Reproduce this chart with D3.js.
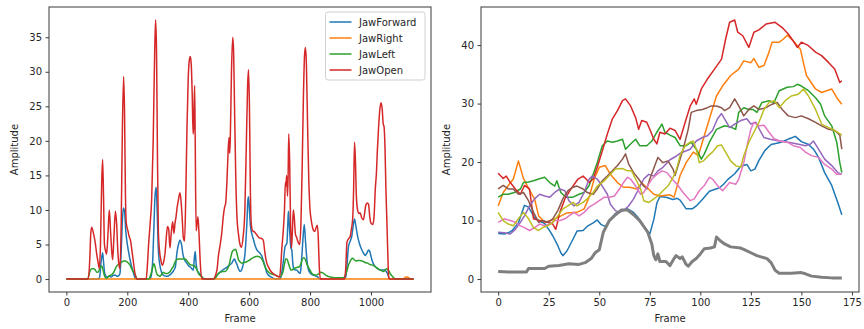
<!DOCTYPE html>
<html>
<head>
<meta charset="utf-8">
<script src="https://cdn.jsdelivr.net/npm/d3@7"></script>
<style>
  body { margin: 0; background: #fff; }
  svg text { font-family: "DejaVu Sans", sans-serif; fill: #262626; }
  .axis path, .axis line { stroke: #3a3a3a; }
</style>
</head>
<body>
<div id="chart"></div>
<script>
// ---- left panel: jaw blendshapes over ~1140 frames, [frame, amplitude]
const jawNames = ['JawForward', 'JawRight', 'JawLeft', 'JawOpen'];
const jawForward = [[0,0],[106,0],[110,0.5],[114,2.5],[119,3.8],[122,2.5],[126,0.8],[133,0.3],[140,0.4],[147,0.3],[153,0.5],[160,0.6],[166,0.4],[172,0.5],[176,0.8],[180,4],[184,8.5],[187,10.3],[191,9.8],[195,7],[198,5.7],[204,4],[209,2.8],[215,1.7],[220,0.9],[228,0],[276,0],[280,0.9],[283,2.3],[287,7],[291,12],[295,13.3],[298,10],[302,4.2],[307,2],[313,0.9],[320,0.5],[330,0.4],[340,0.6],[347,0.9],[353,1.3],[358,1.8],[363,3.8],[368,5],[373,5.6],[378,5],[383,3.5],[388,2.8],[395,2.3],[400,2],[408,1.7],[417,1.3],[420,3],[423,4],[426,2.2],[430,1.2],[437,0.8],[445,0.3],[452,0],[480,0],[490,0.3],[500,0.8],[510,1.2],[520,1.5],[527,1.7],[535,2],[543,2.3],[548,2.7],[552,2.9],[556,2.5],[560,2.1],[565,1.5],[570,1.1],[575,1.3],[581,2.2],[586,3.5],[589,5.2],[593,8.5],[596,11.5],[598,11.9],[601,10],[604,7.8],[609,6.5],[613,5.9],[620,4.8],[626,4.2],[634,3.8],[642,3.3],[647,2.6],[652,1.9],[658,0.9],[665,0.5],[672,0.3],[685,0],[702,0],[707,0.9],[712,2.5],[718,4.7],[724,5.2],[727,8],[729,9.8],[731,8.5],[734,6.2],[737,4.5],[740,4.2],[743,2.5],[746,1.5],[751,1.3],[756,1.3],[762,1],[767,0.8],[770,1.5],[773,3.3],[777,6],[781,7.9],[785,5.5],[790,2.6],[795,1.3],[800,0.9],[808,0.6],[816,0.5],[825,0.3],[833,0],[913,0],[918,0.5],[921,1.8],[926,4.7],[932,5.5],[937,6.2],[941,7.5],[946,8.7],[950,7.8],[956,6.2],[963,5],[970,4.2],[976,3.7],[981,3.4],[987,3.8],[992,4.2],[996,4],[1000,3.3],[1003,2.8],[1008,2.2],[1014,1.8],[1022,1.5],[1030,1.3],[1040,1.3],[1046,1.3],[1050,1.1],[1054,0.8],[1058,0.3],[1061,0],[1140,0]];
const jawRight = [[0,0],[1105,0],[1110,0.15],[1115,0.3],[1120,0.3],[1125,0.15],[1130,0],[1140,0]];
const jawLeft = [[0,0],[70,0],[74,0.6],[79,1.3],[84,1.5],[90,1.5],[95,1.3],[100,1],[104,1],[108,1.3],[112,1.7],[116,1.9],[119,1.6],[123,0.8],[127,0.3],[131,0.1],[137,0.3],[142,0.5],[148,0.6],[153,0.8],[158,1.2],[164,1.8],[170,2.1],[175,2.3],[181,2.4],[187,2.6],[193,2.6],[199,2.5],[204,2.3],[209,2],[213,1.6],[218,1.2],[224,0.8],[228,0.4],[232,0],[270,0],[276,0.5],[281,1.2],[285,2],[288,2.2],[291,1.8],[295,1],[299,0.6],[303,0.5],[307,0.4],[313,0.7],[318,1],[324,0.8],[330,0.8],[336,0.9],[341,1.1],[346,1.5],[351,1.8],[356,2.4],[362,2.8],[368,2.9],[375,2.9],[382,2.9],[389,2.9],[395,2.7],[400,2.4],[406,2.1],[414,2],[423,1.8],[429,1.3],[434,0.8],[440,0.5],[445,0.3],[450,0.1],[460,0],[483,0],[490,0.2],[499,0.8],[506,1],[514,1.1],[521,1.1],[528,1.4],[534,2],[540,3.2],[545,4],[550,4.2],[556,4.3],[560,3.7],[565,2.8],[570,2.5],[576,2.3],[584,2.4],[592,2.5],[600,2.7],[609,3],[618,3.2],[626,3.3],[634,3.2],[640,3],[646,2.5],[652,1.8],[658,1.3],[664,1],[669,0.8],[677,0.7],[685,0.6],[694,0.4],[702,0.3],[707,0.6],[712,1.2],[716,2.2],[720,2.9],[724,2.9],[729,2.3],[734,1.6],[738,1.3],[744,1.4],[751,1.6],[759,1.7],[765,1.8],[770,2.2],[775,2.9],[780,3.1],[785,2.8],[790,2.1],[796,1.6],[802,1.1],[806,0.8],[814,0.6],[822,0.6],[829,0.8],[835,1],[842,0.9],[850,0.6],[858,0.4],[866,0.3],[880,0.2],[910,0.2],[915,0.5],[921,1.2],[926,2],[932,2.6],[936,2.9],[940,3],[945,2.8],[951,2.6],[957,2.7],[964,2.7],[972,2.6],[981,2.4],[989,2.3],[997,2.1],[1006,2],[1014,1.8],[1022,1.5],[1030,1.3],[1036,1.2],[1041,1.1],[1046,1.3],[1052,1.5],[1057,1.3],[1063,0.8],[1068,0.5],[1074,0.2],[1080,0],[1140,0]];
const jawOpen = [[0,0],[72,0],[77,3],[80,6.5],[83,7.5],[88,6.8],[94,5.5],[100,3.5],[105,2.2],[108,1.5],[112,5],[116,14],[119,17.3],[122,12],[125,5],[128,4.2],[132,3.6],[136,6],[141,10],[145,7],[149,4],[152,2.8],[156,6],[161,9.8],[165,8],[169,4],[172,2.3],[176,1.5],[180,8],[184,22],[188,29.3],[191,24],[194,12],[197,8],[202,7],[206,6.2],[211,5.5],[215,4.2],[220,2.5],[226,0.6],[232,0],[262,0],[266,2],[270,5],[275,8],[280,11.5],[285,20],[290,33],[293,37.5],[296,33],[299,18],[302,7],[306,4],[310,2.8],[315,2],[320,2.6],[324,3.8],[328,6],[332,7.6],[336,7.2],[340,4.5],[344,6.5],[349,8.3],[353,6.6],[357,8.2],[360,9],[364,10.5],[368,11.5],[373,12.5],[377,11],[380,9],[384,6],[388,5.5],[392,12],[396,22],[400,29],[404,31.8],[407,32.2],[410,31],[413,27],[416,21],[418,22],[421,28],[423,20],[426,7],[429,8],[432,9],[436,6],[440,2],[445,0],[483,0],[490,0.6],[495,1.5],[499,3.3],[505,5],[510,6.6],[515,9],[519,10.3],[523,11],[527,14],[531,18.5],[534,20.5],[536,18.2],[538,20],[542,30],[546,35],[549,33],[552,25],[556,15],[560,9],[565,6.5],[570,5],[574,4.6],[580,6],[586,10],[591,20],[595,28],[598,30.3],[601,25],[604,13],[607,8],[611,7],[618,6.8],[625,6.4],[632,6],[638,5.9],[644,5.8],[647,5.5],[652,3.7],[658,2.3],[663,1.8],[670,1.2],[685,0.6],[700,0.3],[704,2],[707,4.2],[712,7],[716,10],[719,14],[721,13.5],[723,15],[726,12],[728,15],[730,21],[733,17],[736,8],[739,4.5],[742,7],[745,10],[748,9],[752,6.5],[756,6],[762,5.2],[766,5],[770,8],[774,16],[778,26],[782,32.5],[785,33.5],[788,31],[792,22],[796,14],[800,10],[804,8.5],[808,7.5],[812,7],[816,6.9],[820,7.5],[824,7.8],[827,6],[830,2],[834,0],[913,0],[917,1.5],[921,5.3],[926,5.8],[932,6.2],[936,7.3],[940,8.8],[943,13],[946,19.8],[949,17],[952,12],[956,10],[960,9.5],[964,9.6],[970,8.8],[975,8.6],[979,9.5],[983,10.7],[988,11],[992,10.8],[996,9],[1000,8.1],[1006,7.9],[1010,9],[1014,12.9],[1018,15.5],[1021,18.7],[1025,22],[1029,24.5],[1033,25.5],[1037,24.5],[1040,22.5],[1043,22],[1046,19],[1049,13],[1052,8.6],[1055,4],[1058,0.3],[1062,0],[1140,0]];
const leftXTicks = [0, 200, 400, 600, 800, 1000];
const leftYTicks = [0, 5, 10, 15, 20, 25, 30, 35];

// ---- right panel: nine traces over 171 frames, [frame, amplitude]
const blueR = [[0,7.8],[3,7.7],[5,7.9],[7,8.3],[10,9.6],[13,12.6],[15,12.3],[18,10.5],[20,10],[23,9.5],[25,8.5],[27,7.4],[29.5,5.7],[31,4.5],[32,4],[34,4.8],[37,6.8],[39,8.2],[42,8.3],[44,9],[47,9.6],[49,10.1],[51,9.3],[53,9],[55.5,10.2],[58,11.2],[61,11.7],[64,12],[67,11.4],[69,10.6],[72,9.1],[75,7.7],[77,10.2],[78.5,13],[80,14.1],[83,14],[86.5,13.6],[88.5,13.8],[90,13.5],[93,12],[96,12],[98,12.5],[101,13.6],[104.5,15],[107,15.3],[109.5,15.6],[111.5,16.2],[113.5,17],[117,18],[120,19.3],[123,19.6],[125,18.5],[127,18.8],[129,20.3],[132,22],[135,23],[139,23.3],[141.5,23.6],[144,24],[147,24.4],[150,23.5],[153.5,23],[156,22.2],[158.5,20.8],[161.5,18.2],[165,16],[168,13.1],[170,11]];
const orangeR = [[0,12.5],[2.5,14.8],[5,16],[7.5,17.1],[10,20.2],[12.5,17.2],[15,15.5],[18,13.7],[20,10.8],[23,9.7],[26,10],[29.5,10.5],[34,11.3],[39,11.4],[42.5,12],[45,14],[47.5,17.1],[50,19.1],[53,19.4],[55.5,17.9],[59,16.5],[62,15.7],[65,15.7],[68.5,15.4],[71,16.4],[73.5,15.7],[77,14.5],[80,14.2],[85,14.4],[87,14],[90,17.7],[93,19.9],[96.5,21.7],[99,21.1],[101,23.4],[104.5,27.4],[108,31.3],[111,33],[115,34.8],[119,35.9],[121.5,37.3],[125,37],[126.5,37.7],[129,36.2],[131.5,36.5],[134,38.8],[135.5,40.5],[139,40.5],[141,41],[143,41.7],[146,40.7],[149.5,39.3],[151,37],[152.5,34.8],[157,32.5],[160,31.9],[162.5,32.2],[165,32.5],[167.5,31],[170,29.9]];
const greenR = [[0,14],[2.5,14.5],[5,14.5],[8,14.8],[11,15.4],[12.5,16.5],[15,16.6],[17.5,16.8],[20,17.1],[23,17.4],[25.5,16.5],[28,15.9],[29,16.8],[31,14.8],[33.5,14],[37,14],[40,14.5],[42.5,14.8],[45,16],[47,17.9],[49,19.9],[51.5,22.8],[54,23.6],[56.5,23.4],[59,23.6],[61.5,23.9],[63,22.2],[65.5,23.1],[68,23.9],[70,22.8],[73.5,22.8],[76,23.6],[78.5,25.1],[81,26.5],[82.5,25.1],[85,24.6],[87.5,24.2],[90,22.8],[93,22.8],[95.5,23.4],[98,22.2],[100.5,20.5],[102,21.4],[104.5,23.4],[108,25.6],[112,26.2],[115,26],[117.5,25.6],[119,28.5],[121.5,29.3],[124,29],[126,29],[128,28.5],[130.5,30.2],[134,30.5],[136.5,30.2],[139,32.2],[143,32.8],[146,32.9],[148,33.3],[150,33],[153.5,32.2],[157,31],[159.5,29.9],[161.5,27.9],[165,26.2],[167.5,23.4],[169,19.9],[170,18.2]];
const redR = [[0,18.1],[2.5,17.2],[4,17.6],[6,16.5],[8.5,15.4],[11,14.5],[13,16],[15.5,15.4],[17.5,10.3],[20.5,10],[24.5,9.7],[27,9.4],[28.5,8.5],[30.5,11.4],[33,13.7],[36,15.4],[39.5,17.1],[42,17.6],[43.5,17.1],[45,16.5],[47,17.1],[49,19.1],[51.5,21.9],[54,24.8],[56.5,27.4],[59,28.8],[61.5,30.5],[63,30.8],[65.5,29.6],[68,27.6],[69.5,25.6],[71,27.1],[73.5,26.8],[75,25.6],[77,23.9],[78.5,23.1],[80,25.1],[82.5,24.8],[85,25.8],[87.5,25.4],[90,23.9],[92.5,26.8],[95,29.6],[97,30.8],[98,29.9],[100.5,32.5],[103.5,34.2],[107,35.9],[110.5,37.6],[112.5,41],[114.5,43.9],[117,44.3],[118.5,42.2],[121,41.6],[124,39.6],[126.5,42.2],[129,42.6],[132.5,43.6],[137,43.9],[140.5,43],[143.5,41.9],[146,40.7],[148,39.6],[150,40.5],[153.5,39.9],[157,38.8],[160,38.2],[163.5,37],[166.5,35.9],[169,33.6],[170,33.9]];
const purpleR = [[0,8],[3,7.9],[6,7.7],[8.5,8.5],[11,9.7],[13,10.8],[15.5,12.5],[18,13.7],[20.5,14.5],[23,14.2],[25.5,14],[28,14.8],[30.5,15.4],[33,15.1],[35,13.4],[37.5,12.5],[40,13.1],[42.5,14.8],[45,17.1],[46.5,17.6],[49,17.1],[51.5,15.9],[54,14.5],[55.5,12.8],[58,11.7],[60,11.4],[62,11.7],[64.5,12.5],[67,13.7],[69.5,15.4],[72,17.1],[74.5,17.9],[77,17.6],[79,18.5],[81.5,19.1],[85,20.4],[88,21],[90,21.5],[95,22.2],[98,23.6],[101,24.2],[103.5,24.5],[106,25.4],[108.5,27.4],[110.5,28.3],[112.5,27.1],[114.5,25.9],[117,26.5],[120,27.1],[123,27.4],[125,26.5],[127.5,26.8],[130,25.1],[131.5,24.2],[134.5,23.9],[139,23.6],[143.5,23.4],[148,23.1],[152,22.8],[154.5,23.1],[156,23.6],[158.5,22.2],[161.5,20.5],[165,19.4],[168,18.2],[170,17.9]];
const brownR = [[0,15.4],[2.5,16],[5,15.4],[7.5,15.4],[10,14.5],[12.5,14.8],[15,13.4],[17.5,11.4],[20,9.7],[22,10],[24.5,9.7],[27,10.3],[29.5,11.7],[32,13.7],[34.5,15.1],[37,15.7],[39,15.9],[42,15.4],[44,14.8],[47,14.5],[49,15.4],[51.5,16.8],[54,17.6],[56.5,18.5],[59,19.4],[61.5,20.5],[63,21.4],[64.5,19.7],[67,18.2],[69.5,17.1],[72,15.9],[73.5,15.4],[75,17.1],[77.5,19.4],[79,20.8],[81.5,19.9],[84,20.2],[86.5,18.8],[87.5,17.7],[89,19.4],[91.5,22.2],[94,25.6],[95.5,28.5],[98,28.8],[101,29],[103.5,29.3],[105.5,29.6],[108,29.6],[110.5,29.3],[112,28.8],[114.5,29.3],[117,30.8],[119,29.6],[121.5,27.9],[124,29],[126.5,29.6],[129,29],[132.5,29.3],[135.5,29.9],[138,30.2],[140.5,29],[143.5,27.9],[147,27.6],[150,27.9],[153.5,27.4],[157,26.8],[160,26.2],[163.5,25.6],[166.5,25.4],[169,24.6],[170,22.2]];
const pinkR = [[0,9.7],[3,10.3],[6,10],[8.5,9.7],[11,9.1],[13,8.8],[15.5,8.3],[18,8.8],[20.5,9.4],[23,9.1],[25.5,9.4],[28,10],[30.5,10],[33,10.3],[35,10.8],[37.5,11.4],[40,10.8],[42.5,11.4],[45,12.3],[47.5,12.8],[50,13.4],[52.5,14],[55,14],[57.5,14.2],[60,15.4],[62,16.5],[64,17.4],[65.5,17.1],[68,15.9],[70.5,14.5],[72,14.8],[73.5,15.7],[76,17.1],[78.5,17.9],[81,18.5],[83.5,18.2],[86,17.1],[88.5,16.2],[91.5,14.8],[95,13.4],[97,13.7],[99.5,15.1],[102,16],[104.5,17.4],[106,17.1],[108.5,16],[111,15.1],[114.5,16.5],[117.5,16.2],[119,17.1],[121.5,19.9],[123.5,23.4],[125,25.6],[126.5,26.8],[129,26.2],[131.5,26.3],[134,25.1],[136.5,24],[139.5,23.6],[143,23.4],[146,22.8],[149.5,22.5],[152,21.7],[155,21.1],[158.5,20.8],[161.5,19.6],[165,18.8],[167.5,17.9],[170,17.9]];
const grayR = [[0,1.3],[5,1.2],[10,1.2],[14,1.2],[15,1.8],[20,1.8],[23,1.8],[25,2.2],[30,2.3],[35,2.6],[40,2.5],[43,2.8],[46,3.5],[48,4.5],[50,5],[52,8],[55,10],[58,11],[61,11.8],[64,11.8],[67,11],[70,10],[74,8],[76,6],[77,4],[78,3.3],[79,4.3],[80,3],[83,3],[85,2.3],[87,3.5],[88,4],[90,3.5],[91,3.8],[93,2.5],[94,2.2],[96,3],[98,3.5],[100,4.3],[102,5.2],[105,5.3],[107,5.5],[108,7.2],[110,6.5],[112,6],[115,5.5],[120,5.3],[122,5],[125,4.5],[128,4],[130,3.8],[133,3.5],[135,2.8],[137,1.5],[139,1],[145,1],[150,1.1],[152,0.9],[155,0.5],[160,0.3],[165,0.2],[170,0.2]];
const oliveR = [[0,11.4],[2.5,10],[5,9.4],[7.5,9.1],[10,10.3],[12.5,11.4],[15,10.3],[17.5,8.8],[20,8.3],[22,8.8],[24.5,9.1],[27,9.7],[29.5,10.8],[32,12],[34.5,12.5],[37,13.1],[39,12.5],[42,13.1],[44,13.7],[47,14.8],[49,15.9],[52.5,16.8],[55.5,17.9],[58,18.8],[61.5,18.9],[64,18.5],[66,18.5],[68,17.1],[70.5,15.4],[72,13.4],[74.5,13.1],[77,13.7],[79,14.2],[81.5,15.1],[84,15.9],[86.5,17.4],[88,18.5],[90,21.1],[92.5,22.8],[95,23.4],[96.5,23.6],[98,22.2],[99.5,19.9],[101.5,20.2],[104,21.1],[106,21.7],[108.5,22.8],[110.5,22.9],[112.5,21.7],[115,20.2],[117.5,19.4],[120,19.1],[121.5,21.1],[124,23.4],[126.5,25.1],[129,26.8],[131.5,29],[134,30.2],[136.5,30.5],[139,29.3],[142,30.5],[145,31.3],[148.5,31.6],[151,32.5],[153.5,31.3],[157,29],[160,26.5],[163.5,25.9],[166.5,25.4],[170,24.6]];
const rightXTicks = [0, 25, 50, 75, 100, 125, 150, 175];
const rightYTicks = [0, 10, 20, 30, 40];

const tab10 = ['#1f77b4', '#ff7f0e', '#2ca02c', '#d62728', '#9467bd', '#8c564b', '#e377c2', '#7f7f7f', '#bcbd22'];

const W = 864, H = 329;
const svg = d3.select('#chart').append('svg')
  .attr('width', W).attr('height', H);

// shared panel builder, mpl style with 5% margins
function panel(box, xDom, yDom, xTicks, yTicks) {
  const x = d3.scaleLinear().domain(xDom).range([box.l, box.r]);
  const y = d3.scaleLinear().domain(yDom).range([box.b, box.t]);
  const g = svg.append('g');
  const clipId = 'clip' + box.l;
  g.append('clipPath').attr('id', clipId).append('rect')
    .attr('x', box.l).attr('y', box.t).attr('width', box.r - box.l).attr('height', box.b - box.t);

  g.append('g').attr('class', 'axis')
    .attr('transform', `translate(0,${box.b})`)
    .call(d3.axisBottom(x).tickValues(xTicks).tickFormat(d3.format('d'))
      .tickSize(3.5).tickPadding(3.5).tickSizeOuter(0))
    .call(a => a.select('.domain').remove())
    .selectAll('text').style('font-size', '10px');
  g.append('g').attr('class', 'axis')
    .attr('transform', `translate(${box.l},0)`)
    .call(d3.axisLeft(y).tickValues(yTicks).tickFormat(d3.format('d'))
      .tickSize(3.5).tickPadding(3.5).tickSizeOuter(0))
    .call(a => a.select('.domain').remove())
    .selectAll('text').style('font-size', '10px');

  const plot = g.append('g').attr('clip-path', `url(#${clipId})`);

  g.append('rect')
    .attr('x', box.l).attr('y', box.t)
    .attr('width', box.r - box.l).attr('height', box.b - box.t)
    .attr('fill', 'none').attr('stroke', '#3a3a3a').attr('stroke-width', 1);

  g.append('text')
    .attr('x', (box.l + box.r) / 2).attr('y', 322)
    .attr('text-anchor', 'middle').style('font-size', '10px')
    .text('Frame');
  g.append('text')
    .attr('transform', `translate(${box.l - 31},${(box.t + box.b) / 2}) rotate(-90)`)
    .attr('text-anchor', 'middle').style('font-size', '10px')
    .text('Amplitude');

  return { x, y, plot };
}

// left panel
const L = panel({ l: 49, r: 431, t: 7, b: 292 }, [-57, 1197], [-1.875, 39.375], leftXTicks, leftYTicks);
const leftSeries = [jawForward, jawRight, jawLeft, jawOpen];
const lineL = d3.line().x(d => L.x(d[0])).y(d => L.y(d[1])).curve(d3.curveMonotoneX);
leftSeries.forEach((s, i) => {
  L.plot.append('path').datum(s)
    .attr('d', lineL)
    .attr('fill', 'none')
    .attr('stroke', tab10[i])
    .attr('stroke-width', 1.5)
    .attr('stroke-linejoin', 'round');
});

// legend
const lg = svg.append('g').attr('transform', 'translate(325.5,12)');
lg.append('rect').attr('width', 99.5).attr('height', 68).attr('rx', 2.5)
  .attr('fill', '#fff').attr('fill-opacity', 0.8)
  .attr('stroke', '#d0d0d0').attr('stroke-width', 1);
jawNames.forEach((n, i) => {
  const yy = 10 + i * 16;
  lg.append('line').attr('x1', 4).attr('x2', 26).attr('y1', yy).attr('y2', yy)
    .attr('stroke', tab10[i]).attr('stroke-width', 1.5);
  lg.append('text').attr('x', 33.5).attr('y', yy).attr('dy', '0.35em')
    .style('font-size', '10px').text(n);
});

// right panel
const R = panel({ l: 481, r: 859, t: 7, b: 292 }, [-8.5, 178.5], [-2.215, 46.515], rightXTicks, rightYTicks);
const rightSeries = [blueR, orangeR, greenR, redR, purpleR, brownR, pinkR, grayR, oliveR];
const lineR = d3.line().x(d => R.x(d[0])).y(d => R.y(d[1]));
rightSeries.forEach((s, i) => {
  R.plot.append('path').datum(s)
    .attr('d', lineR)
    .attr('fill', 'none')
    .attr('stroke', tab10[i])
    .attr('stroke-width', i === 7 ? 3 : 1.5)
    .attr('stroke-linejoin', 'round');
});
</script>
</body>
</html>
